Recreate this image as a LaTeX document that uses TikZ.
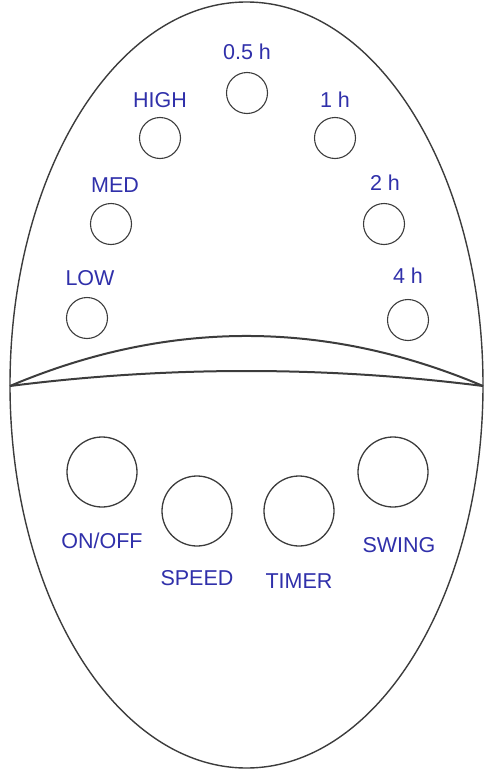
\documentclass[tikz,border=0pt]{standalone}
\usepackage{fontspec}
\setmainfont{Liberation Sans}
\definecolor{lbl}{RGB}{48,48,170}
\definecolor{ln}{RGB}{60,60,60}
\begin{document}
\begin{tikzpicture}[x=1pt,y=-1pt,
  small/.style={circle,draw=ln,line width=1.1pt,minimum size=41pt,inner sep=0pt},
  big/.style={circle,draw=ln,line width=1.3pt,minimum size=70pt,inner sep=0pt},
  lab/.style={text=lbl,font=\fontsize{21.5}{21.5}\selectfont,inner sep=0pt,anchor=center}]
\useasboundingbox (0,0) rectangle (490,771);
\draw[ln,line width=1.4pt] (246.5,385) ellipse [x radius=236.5, y radius=383];
\coordinate (L) at (10,386);
\coordinate (R) at (483,386);
\draw[ln,line width=2pt] (L) .. controls (167.7,319.3) and (325.3,319.3) .. (R);
\draw[ln,line width=2pt] (L) .. controls (167.7,366) and (325.3,366) .. (R);
% small indicator circles
\node[small] (c05) at (247,93) {};
\node[small] (chigh) at (160,138) {};
\node[small] (c1) at (335,138) {};
\node[small] (cmed) at (111,224) {};
\node[small] (c2) at (384,224) {};
\node[small] (clow) at (87,318) {};
\node[small] (c4) at (408,320) {};
\node[lab] (t05) at (247,52) {0.5 h};
\node[lab] (thigh) at (160,100) {HIGH};
\node[lab] (t1) at (335,100) {1 h};
\node[lab] (tmed) at (115,185) {MED};
\node[lab] (t2) at (385,183) {2 h};
\node[lab] (tlow) at (90,278) {LOW};
\node[lab] (t4) at (408,276) {4 h};
% buttons
\node[big] (bon) at (102,472) {};
\node[big] (bspeed) at (197,511) {};
\node[big] (btimer) at (299,511) {};
\node[big] (bswing) at (393,472) {};
\node[lab] (ton) at (102,541) {ON/OFF};
\node[lab] (tspeed) at (197,578) {SPEED};
\node[lab] (ttimer) at (299,581) {TIMER};
\node[lab] (tswing) at (399,545) {SWING};
\end{tikzpicture}
\end{document}
